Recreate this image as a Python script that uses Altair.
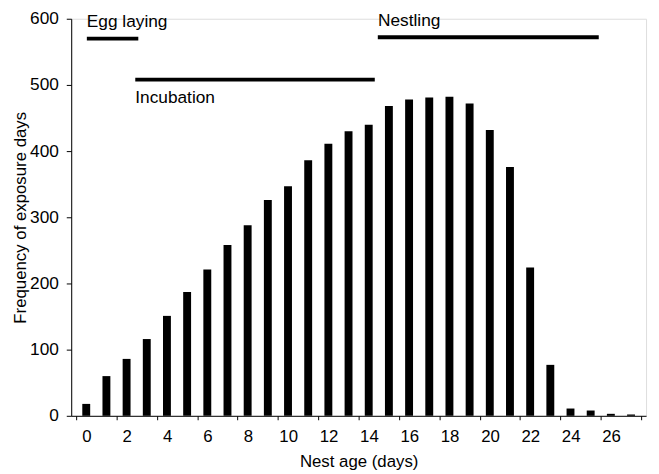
import altair as alt
import pandas as pd

# Data
days = list(range(28))
freq = [18, 60, 86, 116, 151, 187, 221, 258, 288, 326, 347, 386, 411, 430, 440,
        468, 478, 481, 482, 472, 432, 376, 224, 77, 11, 8, 3, 2]

phase_names = ["Egg laying", "Incubation", "Nestling"]
phase_start = [0.03, 2.43, 14.45]
phase_end = [2.58, 14.3, 25.4]
phase_y = [570, 508, 572]
label_x = [0.03, 2.43, 14.46]
label_y = [595, 480, 596]

x_ticks = [d - 0.5 for d in range(29)]
y_ticks = [0, 100, 200, 300, 400, 500, 600]

bars_df = pd.DataFrame({"day": days, "freq": freq})
phase_df = pd.DataFrame({"name": phase_names, "x1": phase_start, "x2": phase_end, "y": phase_y,
                         "lx": label_x, "ly": label_y})

FONT = "Liberation Sans"

x_scale = alt.Scale(domain=[-0.5, 27.5], nice=False, zero=False)
y_scale = alt.Scale(domain=[0, 600], nice=False)

x_axis = alt.Axis(
    values=x_ticks, title="Nest age (days)", grid=False,
    labelExpr="((datum.value + 0.5) % 2 == 0 && datum.value < 27) ? format(datum.value + 0.5, 'd') : ''",
    labelOffset=10.39, labelOverlap=False, labelFlush=False,
    tickSize=4, labelPadding=9, titlePadding=9,
    labelFontSize=17, titleFontSize=17, titleFontWeight="normal",
    domainColor="black", tickColor="black", labelColor="black", titleColor="black",
)
y_axis = alt.Axis(
    values=y_ticks, title="Frequency of exposure days", grid=False,
    tickSize=5, labelPadding=8, titlePadding=0,
    labelFontSize=17.5, titleFontSize=17, titleFontWeight="normal",
    domainColor="black", tickColor="black", labelColor="black", titleColor="black",
)

bars = alt.Chart(bars_df).mark_bar(color="black", size=8).encode(
    x=alt.X("day:Q", scale=x_scale, axis=x_axis),
    y=alt.Y("freq:Q", scale=y_scale, axis=y_axis),
)

rules = alt.Chart(phase_df).mark_rule(color="black", strokeWidth=4, strokeCap="butt").encode(
    x=alt.X("x1:Q", scale=x_scale),
    x2="x2:Q",
    y=alt.Y("y:Q", scale=y_scale),
)

labels = alt.Chart(phase_df).mark_text(
    align="left", baseline="middle", font=FONT, fontSize=17.5, color="black"
).encode(
    x=alt.X("lx:Q", scale=x_scale),
    y=alt.Y("ly:Q", scale=y_scale),
    text="name:N",
)

chart = alt.layer(bars, rules, labels).properties(
    width=582, height=402,
    autosize=alt.AutoSizeParams(type="none"),
    padding={"left": 64, "top": 8, "right": 5, "bottom": 54},
).configure_view(stroke=None).configure(font=FONT).configure_axis(
    labelFont=FONT, titleFont=FONT
)

chart.save("out.html", embed_options={"renderer": "svg", "actions": False})
